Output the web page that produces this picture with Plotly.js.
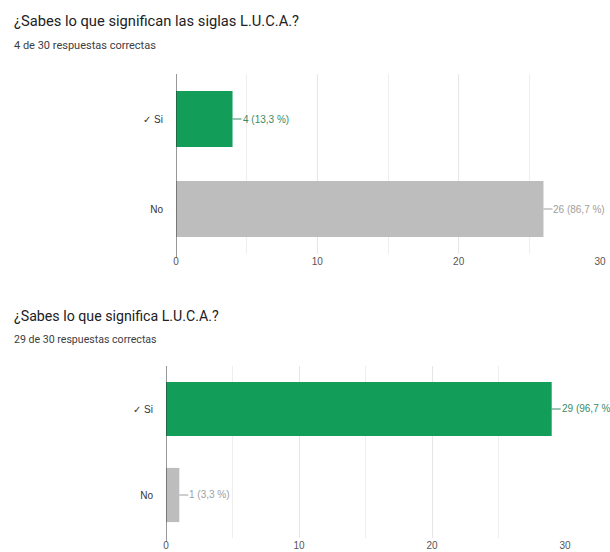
<!DOCTYPE html>
<html>
<head>
<meta charset="utf-8">
<script src="https://cdn.plot.ly/plotly-3.0.1.min.js"></script>
<style>html,body{margin:0;padding:0;background:#fff;}#chart{width:610px;height:552px;}</style>
</head>
<body>
<div id="chart"></div>
<script>
// Data
const categories = ['✓ Si', 'No'];
const values1 = [4, 26];
const pct1 = ['13,3 %', '86,7 %'];
const values2 = [29, 1];
const pct2 = ['96,7 %', '3,3 %'];
const title1 = '¿Sabes lo que significan las siglas L.U.C.A.?';
const subtitle1 = '4 de 30 respuestas correctas';
const title2 = '¿Sabes lo que significa L.U.C.A.?';
const subtitle2 = '29 de 30 respuestas correctas';
const xTicks = [0, 10, 20, 30];

const barColors = ['#129d58', '#bdbdbd'];
const labelColors = ['#3a8a66', '#9e9e9e'];
const FONT = 'Roboto, Arial, sans-serif';
const AFONT = 'Arial, "Liberation Sans", sans-serif';

const traces = [
  {type:'bar', orientation:'h', x: values1, y: categories, xaxis:'x', yaxis:'y',
   marker:{color: barColors}, width:0.62, hoverinfo:'none'},
  {type:'bar', orientation:'h', x: values2, y: categories, xaxis:'x2', yaxis:'y2',
   marker:{color: barColors}, width:0.63, hoverinfo:'none'}
];

function labelAnns(vals, pcts, xr, yr) {
  return vals.map((v, i) => ({
    xref: xr, yref: yr, x: v, y: categories[i],
    text: v + ' (' + pcts[i] + ')',
    showarrow: true, arrowhead: 0, arrowwidth: 1, arrowcolor: labelColors[i],
    ax: 9, ay: 0, xanchor: 'left', standoff: 0, startstandoff: 0,
    borderpad: 0,
    font: {family: AFONT, size: 10, color: labelColors[i]}
  }));
}

const xaxisBase = {
  range: [0, 30], tickvals: xTicks, ticktext: xTicks.map(String),
  showgrid: true, gridcolor: '#e6e6e6', gridwidth: 1,
  minor: {dtick: 5, tick0: 0, showgrid: true, gridcolor: '#eeeeee', gridwidth: 1},
  zeroline: false, showline: false, ticks: '',
  tickfont: {family: AFONT, size: 10, color: '#555'}, fixedrange: true
};
const yaxisBase = {
  type: 'category', autorange: 'reversed', showgrid: false, zeroline: false,
  showline: false, ticks: '', ticklabelstandoff: 12,
  tickfont: {family: AFONT, size: 10, color: '#333'}, fixedrange: true
};

const layout = {
  width: 610, height: 552,
  margin: {l: 0, r: 0, t: 0, b: 0},
  paper_bgcolor: '#fff', plot_bgcolor: '#fff',
  showlegend: false, bargap: 0.3,
  xaxis: Object.assign({}, xaxisBase, {domain: [176/610, 600/610], anchor: 'y'}),
  yaxis: Object.assign({}, yaxisBase, {domain: [1 - 254/552, 1 - 74/552], anchor: 'x'}),
  xaxis2: Object.assign({}, xaxisBase, {domain: [166/610, 565/610], anchor: 'y2'}),
  yaxis2: Object.assign({}, yaxisBase, {domain: [1 - 538/552, 1 - 366/552], anchor: 'x2'}),
  shapes: [
    {type:'line', xref:'x', yref:'y domain', x0:0, x1:0, y0:-0.02, y1:1, line:{color:'#333', width:1}},
    {type:'line', xref:'x2', yref:'y2 domain', x0:0, x1:0, y0:-0.02, y1:1, line:{color:'#333', width:1}}
  ],
  annotations: [
    {xref:'paper', yref:'paper', x: 12/610, y: 1 - 21/552, xanchor:'left', yanchor:'middle',
     text: title1, showarrow:false, font:{family: FONT, size: 14.7, color:'#202124'}},
    {xref:'paper', yref:'paper', x: 12/610, y: 1 - 45/552, xanchor:'left', yanchor:'middle',
     text: subtitle1, showarrow:false, font:{family: FONT, size: 11, color:'#3c4043'}},
    {xref:'paper', yref:'paper', x: 12/610, y: 1 - 316/552, xanchor:'left', yanchor:'middle',
     text: title2, showarrow:false, font:{family: FONT, size: 14.2, color:'#202124'}},
    {xref:'paper', yref:'paper', x: 12/610, y: 1 - 339/552, xanchor:'left', yanchor:'middle',
     text: subtitle2, showarrow:false, font:{family: FONT, size: 10.6, color:'#3c4043'}}
  ].concat(labelAnns(values1, pct1, 'x', 'y'), labelAnns(values2, pct2, 'x2', 'y2'))
};

Plotly.newPlot('chart', traces, layout, {staticPlot: true, displayModeBar: false});
</script>
</body>
</html>
